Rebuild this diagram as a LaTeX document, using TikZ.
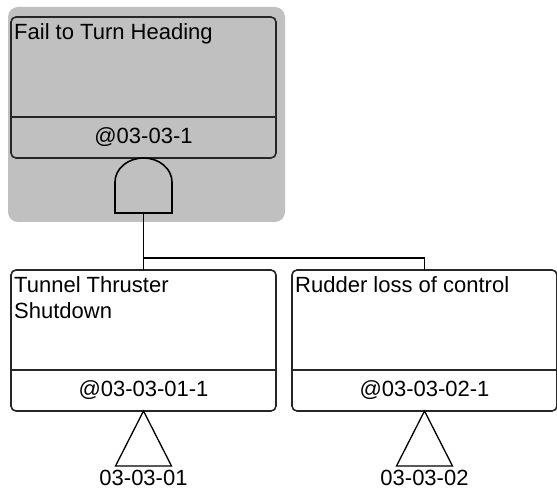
\documentclass[tikz,border=0pt]{standalone}
\usepackage{fontspec}
\setmainfont{Liberation Sans}
\usetikzlibrary{positioning}
\definecolor{ftgray}{RGB}{192,192,192}
\definecolor{ftline}{RGB}{38,38,38}

\begin{document}
\begin{tikzpicture}[
        x=1pt, y=-1pt,
        font=\fontsize{22}{26}\selectfont,
        event/.style={
            draw=ftline,
            line width=1.6pt,
            rounded corners=5pt,
            minimum width=265pt,
            minimum height=141pt,
            inner sep=0pt,
            outer sep=0pt
        },
        title/.style={
            anchor=north west,
            align=left,
            inner sep=0pt
        },
        tag/.style={
            inner sep=0pt
        },
        wire/.style={
            draw=black,
            line width=1.6pt
        },
        divider/.style={
            draw=ftline,
            line width=1.6pt
        }
    ]
    \useasboundingbox (0,0) rectangle (557,494);

    \node[fill=ftgray, rounded corners=10pt, minimum width=277pt,
          minimum height=215pt] (shade) at (146.5,114.5) {};

    \node[event] (top) at (143.5,87.5) {};
    \node[event, below=112pt of top] (tunnel) {};
    \node[event, right=16pt of tunnel] (rudder) {};

    \foreach \ev in {top, tunnel, rudder}
        \draw[divider] ([yshift=41pt]\ev.south west) -- ([yshift=41pt]\ev.south east);

    \node[title] (toptitle) at ([xshift=3pt,yshift=-6pt]top.north west) {Fail to Turn Heading};
    \node[title] (tunneltitle) at ([xshift=3pt,yshift=-6pt]tunnel.north west) {Tunnel Thruster\\Shutdown};
    \node[title] (riddertitle) at ([xshift=3pt,yshift=-6pt]rudder.north west) {Rudder loss of control};

    \node[tag] (toptag) at ([yshift=20.5pt]top.south) {@03-03-1};
    \node[tag] (tunneltag) at ([yshift=20.5pt]tunnel.south) {@03-03-01-1};
    \node[tag] (ruddertag) at ([yshift=20.5pt]rudder.south) {@03-03-02-1};

    \coordinate (gate) at ([yshift=-55pt]top.south);
    \coordinate (split) at ([yshift=-45pt]gate);
    \draw[wire] (gate) -- ++(-28.5,0) -- ++(0,-31)
        arc[start angle=180, end angle=0, x radius=28.5pt, y radius=24pt]
        -- ++(0,31) -- cycle;

    \draw[wire] (gate) -- (tunnel.north);
    \draw[wire] (split) -| (rudder.north);

    \draw[wire, line width=1.3pt] (tunnel.south) -- ++(-28,55) -- ++(56,0) -- cycle;
    \draw[wire, line width=1.3pt] (rudder.south) -- ++(-28,55) -- ++(56,0) -- cycle;

    \node[tag] (tunnelref) at ([yshift=-67pt]tunnel.south) {03-03-01};
    \node[tag] (rudderref) at ([yshift=-67pt]rudder.south) {03-03-02};
\end{tikzpicture}
\end{document}
